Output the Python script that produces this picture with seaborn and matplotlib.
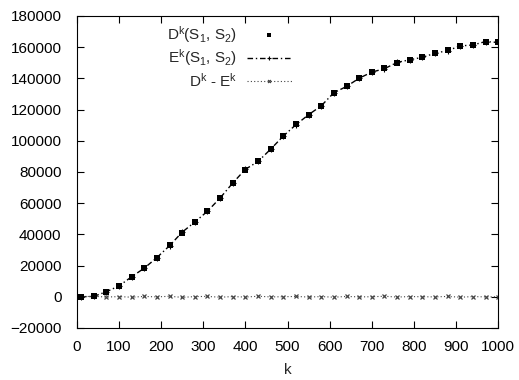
"""Distance D^k vs expected distance E^k over k, gnuplot-like look."""

import numpy as np
import pandas as pd
import matplotlib
matplotlib.use("Agg")
import matplotlib.pyplot as plt
import seaborn as sns

k_values = [10, 40, 70, 100, 130, 160, 190, 220, 250, 280, 310, 340, 370, 400,
            430, 460, 490, 520, 550, 580, 610, 640, 670, 700, 730, 760, 790,
            820, 850, 880, 910, 940, 970, 1000]
d_values = [0, 500, 3000, 7000, 12500, 18500, 25000, 33000, 41000, 48000,
            55000, 63000, 73000, 81500, 87000, 94500, 103000, 110500, 116500,
            122500, 130500, 135000, 140000, 144000, 146500, 150000, 152000,
            153500, 156000, 158000, 160500, 161500, 163500, 163000]
diff_values = [0, 300, -200, 100, -300, 200, -100, 300, -400, 100, 200, -300,
               100, -200, 300, -100, 0, 200, -200, 100, -300, 200, -100, 0,
               300, -200, 100, 0, -100, 200, -300, 100, -100, 0]

df = pd.DataFrame({"k": k_values, "D": d_values, "diff": diff_values})
df["E"] = df["D"] - df["diff"]

sns.set_style("ticks")
plt.rcParams["font.family"] = ["Liberation Sans", "DejaVu Sans"]
plt.rcParams["mathtext.fontset"] = "custom"
plt.rcParams["mathtext.rm"] = "Liberation Sans"
plt.rcParams["mathtext.it"] = "Liberation Sans:italic"

fig = plt.figure(figsize=(5.19, 3.8), dpi=100)
ax = fig.add_axes([0.148, 0.137, 0.812, 0.821])

sns.scatterplot(data=df, x="k", y="D", ax=ax, marker="s", s=13, color="black",
                edgecolor="black", linewidth=0,
                label=r"D$^{\mathrm{k}}$(S$_1$, S$_2$)", zorder=3)
sns.lineplot(data=df, x="k", y="E", ax=ax, color="black", linewidth=1.0,
             linestyle=(0, (4, 2, 1, 2)), marker="+", markersize=4,
             markeredgewidth=0.8, markeredgecolor="black",
             label=r"E$^{\mathrm{k}}$(S$_1$, S$_2$)")
sns.lineplot(data=df, x="k", y="diff", ax=ax, color="#444444", linewidth=0.8,
             linestyle=(0, (1, 2)), marker="x", markersize=3.5,
             markeredgewidth=0.9, markeredgecolor="#444444",
             label=r"D$^{\mathrm{k}}$ - E$^{\mathrm{k}}$")

ax.set_xlim(0, 1000)
ax.set_ylim(-20000, 180000)
ax.set_xticks(np.arange(0, 1001, 100))
ax.set_yticks(np.arange(-20000, 180001, 20000))
ax.tick_params(direction="in", top=True, right=True, length=5, width=0.8,
               labelsize=11, colors="black")
ax.tick_params(axis="x", pad=9)
ax.tick_params(axis="y", pad=11)
for side in ax.spines.values():
    side.set_visible(True)
    side.set_linewidth(0.8)
    side.set_color("black")
ax.set_xlabel("k", fontsize=11, labelpad=6)
ax.set_ylabel("")

ax.legend(loc="upper right", bbox_to_anchor=(300 / 519, 1 - 16 / 380),
          bbox_transform=fig.transFigure, frameon=False, markerfirst=False,
          fontsize=11, handlelength=3.0, handletextpad=0.6, labelspacing=0.2,
          borderpad=0, markerscale=0.6)

plt.savefig("out.png", dpi=100)
plt.close()
